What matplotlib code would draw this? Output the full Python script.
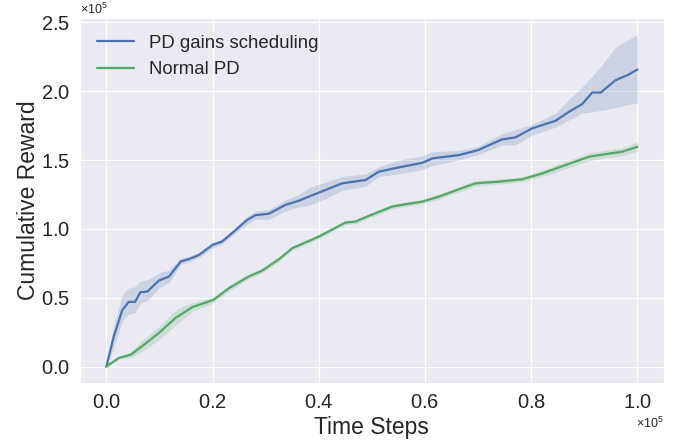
import numpy as np
import matplotlib
matplotlib.use("Agg")
import matplotlib.pyplot as plt
import seaborn as sns
from matplotlib.ticker import ScalarFormatter

sns.set_style("darkgrid")
plt.rcParams['font.family'] = ['Liberation Sans', 'DejaVu Sans']
plt.rcParams['mathtext.fontset'] = 'custom'
plt.rcParams['mathtext.rm'] = 'Liberation Sans'
plt.rcParams['mathtext.it'] = 'Liberation Sans:italic'

SCALE = 1e5

# PD gains scheduling (x and y in units of 1e5)
blue_x = [0, 0.014, 0.03, 0.042, 0.054, 0.064, 0.077, 0.099, 0.118, 0.14, 0.155, 0.174,
          0.2, 0.218, 0.243, 0.265, 0.281, 0.306, 0.337, 0.363, 0.381, 0.413, 0.444,
          0.488, 0.513, 0.551, 0.595, 0.614, 0.664, 0.70, 0.745, 0.77, 0.802, 0.846,
          0.871, 0.896, 0.915, 0.931, 0.959, 0.981, 1.0]
blue_y = [0, 0.22, 0.41, 0.47, 0.47, 0.54, 0.545, 0.625, 0.654, 0.763, 0.78, 0.81,
          0.884, 0.908, 0.99, 1.065, 1.10, 1.11, 1.174, 1.205, 1.234, 1.283, 1.331,
          1.355, 1.415, 1.447, 1.48, 1.512, 1.536, 1.572, 1.65, 1.664, 1.73, 1.785,
          1.85, 1.906, 1.99, 1.99, 2.08, 2.116, 2.157]
blue_lo = [0, 0.14, 0.33, 0.38, 0.39, 0.46, 0.48, 0.57, 0.61, 0.74, 0.76, 0.79,
           0.86, 0.89, 0.97, 1.03, 1.07, 1.07, 1.13, 1.16, 1.17, 1.22, 1.28,
           1.31, 1.38, 1.40, 1.43, 1.46, 1.50, 1.54, 1.61, 1.61, 1.68, 1.74,
           1.79, 1.84, 1.85, 1.86, 1.88, 1.90, 1.915]
blue_hi = [0, 0.30, 0.52, 0.57, 0.58, 0.62, 0.63, 0.68, 0.70, 0.79, 0.80, 0.83,
           0.90, 0.93, 1.01, 1.09, 1.13, 1.14, 1.21, 1.25, 1.30, 1.34, 1.38,
           1.40, 1.45, 1.50, 1.53, 1.56, 1.57, 1.60, 1.69, 1.72, 1.76, 1.84,
           1.94, 2.03, 2.11, 2.18, 2.32, 2.37, 2.41]

# Normal PD
green_x = [0, 0.0235, 0.046, 0.067, 0.099, 0.13, 0.162, 0.193, 0.202, 0.231, 0.268,
           0.293, 0.325, 0.35, 0.40, 0.45, 0.469, 0.494, 0.538, 0.563, 0.595, 0.626,
           0.664, 0.695, 0.739, 0.783, 0.821, 0.865, 0.909, 0.94, 0.971, 1.0]
green_y = [0, 0.063, 0.087, 0.147, 0.244, 0.353, 0.432, 0.473, 0.486, 0.57, 0.654,
           0.696, 0.78, 0.86, 0.944, 1.046, 1.053, 1.094, 1.162, 1.179, 1.198, 1.234,
           1.288, 1.331, 1.343, 1.36, 1.403, 1.464, 1.524, 1.543, 1.56, 1.596]
green_lo = [0, 0.053, 0.067, 0.11, 0.195, 0.30, 0.40, 0.45, 0.467, 0.55, 0.635,
            0.678, 0.762, 0.845, 0.93, 1.032, 1.038, 1.078, 1.145, 1.163, 1.182, 1.215,
            1.268, 1.31, 1.325, 1.342, 1.38, 1.436, 1.495, 1.515, 1.53, 1.563]
green_hi = [0, 0.073, 0.107, 0.19, 0.29, 0.41, 0.465, 0.495, 0.505, 0.59, 0.673,
            0.714, 0.798, 0.875, 0.958, 1.06, 1.068, 1.11, 1.18, 1.195, 1.214, 1.253,
            1.308, 1.352, 1.362, 1.378, 1.426, 1.492, 1.553, 1.571, 1.59, 1.63]

labels = ["PD gains scheduling", "Normal PD"]
colors = ["#4C72B0", "#55A868"]

fig = plt.figure(figsize=(6.88, 4.42), dpi=100)
ax = fig.add_axes([0.116, 0.133, 0.849, 0.826])

series = [(blue_x, blue_y, blue_lo, blue_hi), (green_x, green_y, green_lo, green_hi)]
for (sx, sy, lo, hi), lab, c in zip(series, labels, colors):
    sx = np.array(sx) * SCALE
    ax.fill_between(sx, np.array(lo) * SCALE, np.array(hi) * SCALE, color=c, alpha=0.2, lw=0)
    ax.plot(sx, np.array(sy) * SCALE, color=c, lw=1.6, label=lab)

for axis in (ax.xaxis, ax.yaxis):
    fmt = ScalarFormatter(useMathText=True)
    fmt.set_powerlimits((0, 0))
    axis.set_major_formatter(fmt)

ax.set_xticks(np.array([0, 0.2, 0.4, 0.6, 0.8, 1.0]) * SCALE)
ax.set_yticks(np.array([0, 0.5, 1.0, 1.5, 2.0, 2.5]) * SCALE)
ax.tick_params(labelsize=14.5, colors='#262626')
ax.xaxis.get_offset_text().set_fontsize(9)
ax.yaxis.get_offset_text().set_fontsize(9)

ax.set_xlabel("Time Steps", fontsize=16.5, color='#262626', labelpad=3)
ax.set_ylabel("Cumulative Reward", fontsize=16.5, color='#262626', labelpad=1)
leg = ax.legend(loc='upper left', fontsize=13.4, frameon=False)

fig.savefig("out.png", dpi=100)
